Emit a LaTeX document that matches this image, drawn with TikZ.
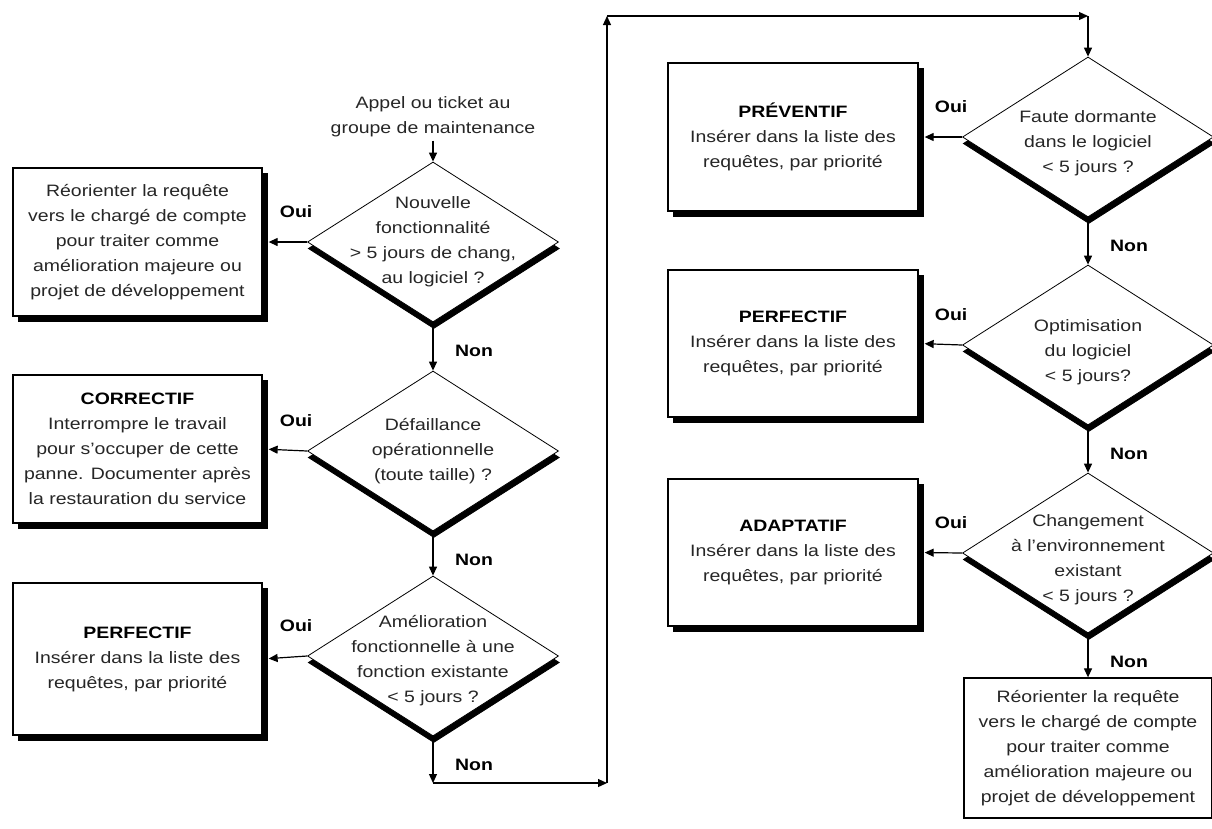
\documentclass[tikz,border=0pt]{standalone}
\usepackage{fontspec}
\setmainfont{Liberation Sans}[FakeStretch=1.18]
\usetikzlibrary{arrows.meta,shapes.geometric,shadows,calc}
\begin{document}
\begin{tikzpicture}[x=1pt,y=-1pt,
  every node/.style={font=\fontsize{16.5}{25}\selectfont, text=black!85},
  box/.style={draw=black, line width=1.3pt, fill=white, inner sep=0pt,
    minimum width=249pt, minimum height=148pt, align=center,
    copy shadow={shadow xshift=5.5pt, shadow yshift=-5.5pt, fill=black, draw=black}},
  plainbox/.style={draw=black, line width=1.3pt, fill=white, inner sep=0pt,
    minimum width=248pt, minimum height=140pt, align=center},
  decision/.style={diamond, draw=black, line width=0.8pt, fill=white, inner sep=0pt,
    minimum width=251pt, minimum height=160pt,
    copy shadow={shadow xshift=0.8pt, shadow yshift=-6.5pt, fill=black, draw=black}},
  dtext/.style={align=center, inner sep=0pt},
  answer/.style={font=\fontsize{16.5}{25}\selectfont\bfseries, text=black},
  flow/.style={draw=black, line width=1.2pt, -{Triangle[length=9pt,width=8pt]}}
]
\useasboundingbox (0,0) rectangle (1212,828);

% ---- left column ----
\node[align=center] (start) at (433,117) {Appel ou ticket au\\groupe de maintenance};

\node[decision] (d1) at (433,242) {};
\node[dtext] (t1) at (d1) {Nouvelle\\fonctionnalité\\> 5 jours de chang,\\au logiciel ?};
\node[box] (b1) at (137.5,242) {Réorienter la requête\\vers le chargé de compte\\pour traiter comme\\amélioration majeure ou\\projet de développement};

\node[decision] (d2) at (433,451) {};
\node[dtext] (t2) at (d2) {Défaillance\\opérationnelle\\(toute taille) ?};
\node[box] (b2) at (137.5,449) {\textbf{\color{black}CORRECTIF}\\Interrompre le travail\\pour s’occuper de cette\\panne. Documenter après\\la restauration du service};

\node[decision] (d3) at (433,656) {};
\node[dtext] (t3) at ($(d3)+(0,5)$) {Amélioration\\fonctionnelle à une\\fonction existante\\< 5 jours ?};
\node[box, minimum height=152pt] (b3) at (137.5,659) {\textbf{\color{black}PERFECTIF}\\Insérer dans la liste des\\requêtes, par priorité};

% ---- right column ----
\node[decision] (d4) at (1088,137) {};
\node[dtext] (t4) at ($(d4)+(0,6)$) {Faute dormante\\dans le logiciel\\< 5 jours ?};
\node[box, minimum width=250pt] (b4) at (793,137) {\textbf{\color{black}PRÉVENTIF}\\Insérer dans la liste des\\requêtes, par priorité};

\node[decision] (d5) at (1088,345) {};
\node[dtext] (t5) at ($(d5)+(0,7)$) {Optimisation\\du logiciel\\< 5 jours?};
\node[box, minimum width=250pt, minimum height=147pt] (b5) at (793,343.5) {\textbf{\color{black}PERFECTIF}\\Insérer dans la liste des\\requêtes, par priorité};

\node[decision] (d6) at (1088,553) {};
\node[dtext] (t6) at ($(d6)+(0,7)$) {Changement\\à l’environnement\\existant\\< 5 jours ?};
\node[box, minimum width=250pt, minimum height=147pt] (b6) at (793,552.5) {\textbf{\color{black}ADAPTATIF}\\Insérer dans la liste des\\requêtes, par priorité};

\node[plainbox] (b7) at (1088,748) {Réorienter la requête\\vers le chargé de compte\\pour traiter comme\\amélioration majeure ou\\projet de développement};

% ---- answer labels ----
\foreach \d in {d1,d2,d3,d4,d5,d6}{
  \node[answer] (oui-\d) at ($(\d.west)+(-11,-30)$) {Oui};
  \node[answer] (non-\d) at ($(\d.south)+(41,28)$) {Non};
}

% ---- bends of the long connector ----
\coordinate (c1) at (433,783);
\coordinate (c2) at (607,783);
\coordinate (c3) at (607,16);
\coordinate (c4) at (1088,16);

% ---- connectors ----
\draw[flow] (start.south) -- (d1.north);
\draw[flow] (d1.south) -- (d2.north);
\draw[flow] (d2.south) -- (d3.north);
\draw[flow] (d3.south) -- (c1);
\draw[flow] (c1) -- (c2);
\draw[flow] (c2) -- (c3);
\draw[flow] (c3) -- (c4);
\draw[flow] (c4) -- (d4.north);
\draw[flow] (d4.south) -- (d5.north);
\draw[flow] (d5.south) -- (d6.north);
\draw[flow] (d6.south) -- (b7.north);

\draw[flow, shorten >=6pt] (d1.west) -- (b1.east);
\draw[flow, shorten >=6pt] (d2.west) -- (b2.east);
\draw[flow, shorten >=6pt] (d3.west) -- (b3.east);
\draw[flow, shorten >=6pt] (d4.west) -- (b4.east);
\draw[flow, shorten >=6pt] (d5.west) -- (b5.east);
\draw[flow, shorten >=6pt] (d6.west) -- (b6.east);
\end{tikzpicture}
\end{document}
